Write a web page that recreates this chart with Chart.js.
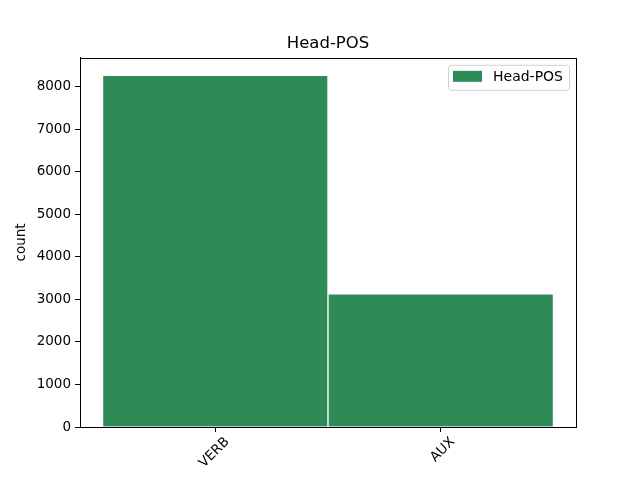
<!DOCTYPE html>
<html>
<head>
<meta charset="utf-8">
<script src="https://cdn.jsdelivr.net/npm/chart.js@4/dist/chart.umd.min.js"></script>
<style>
  html, body { margin: 0; padding: 0; background: #fff; }
  #wrap { width: 640px; height: 480px; }
</style>
</head>
<body>
<div id="wrap"><canvas id="posChart" width="640" height="480"></canvas></div>
<script>
// chart data
const categories = ["VERB", "AUX"];
const counts = [8260, 3130];
const yTicks = [0, 1000, 2000, 3000, 4000, 5000, 6000, 7000, 8000];
const seriesName = "Head-POS";

const barColor = "#2e8b57";
const fontFamily = "'DejaVu Sans', sans-serif";

// frame around the plot area + legend box inside top right
const framePlugin = {
    id: "frame",
    afterDraw(chart) {
        let ctx = chart.ctx;
        let a = chart.chartArea;
        ctx.save();
        ctx.strokeStyle = "#000";
        ctx.lineWidth = 1;
        ctx.strokeRect(Math.round(a.left) + 0.5, Math.round(a.top) + 0.5,
            Math.round(a.right - a.left), Math.round(a.bottom - a.top));

        // legend
        ctx.font = "14px " + fontFamily;
        let textW = ctx.measureText(seriesName).width;
        let boxW = 4 + 29 + 11 + textW + 7;
        let boxH = 25;
        let bx = a.right - 7 - boxW;
        let by = a.top + 7;
        ctx.beginPath();
        ctx.roundRect(bx + 0.5, by + 0.5, boxW, boxH, 3);
        ctx.fillStyle = "rgba(255,255,255,0.8)";
        ctx.fill();
        ctx.strokeStyle = "#d0d0d0";
        ctx.stroke();
        ctx.fillStyle = barColor;
        ctx.fillRect(bx + 5, by + 6, 29, 11);
        ctx.fillStyle = "#000";
        ctx.textBaseline = "middle";
        ctx.textAlign = "left";
        ctx.fillText(seriesName, bx + 45, by + 13);
        ctx.restore();
    }
};

let ctx = document.getElementById("posChart").getContext("2d");
new Chart(ctx, {
    type: "bar",
    data: {
        datasets: [{
            label: seriesName,
            data: categories.map((c, i) => ({ x: i, y: counts[i] })),
            backgroundColor: barColor,
            borderColor: "rgba(255,255,255,0.85)",
            borderWidth: 1,
            barPercentage: 1,
            categoryPercentage: 1
        }]
    },
    options: {
        responsive: false,
        animation: false,
        layout: { padding: { left: 16, right: 0, top: 0, bottom: 0 } },
        plugins: {
            legend: { display: false },
            tooltip: { enabled: false },
            title: {
                display: true,
                text: seriesName,
                color: "#000",
                font: { family: fontFamily, size: 16.5, weight: "normal" },
                padding: { top: 34, bottom: 4 }
            }
        },
        scales: {
            x: {
                type: "linear",
                min: -0.6,
                max: 1.6,
                offset: false,
                afterFit(scale) { scale.height = 53; },
                afterBuildTicks(scale) {
                    scale.ticks = categories.map((c, i) => ({ value: i }));
                },
                ticks: {
                    callback: (v) => categories[v],
                    minRotation: 45,
                    maxRotation: 45,
                    color: "#000",
                    padding: 2,
                    labelOffset: 12,
                    font: { family: fontFamily, size: 13.5 }
                },
                grid: { offset: false, drawOnChartArea: false, drawTicks: true, tickLength: 5, color: "#000" },
                border: { display: true, color: "#000" }
            },
            y: {
                min: 0,
                max: Math.max(...counts) * 1.05,
                afterFit(scale) { scale.width = 64; },
                afterBuildTicks(scale) {
                    scale.ticks = yTicks.map(v => ({ value: v }));
                },
                ticks: {
                    callback: (v) => String(v),
                    color: "#000",
                    padding: 4,
                    font: { family: fontFamily, size: 13.5 }
                },
                title: {
                    display: true,
                    text: "count",
                    color: "#000",
                    font: { family: fontFamily, size: 13.5, lineHeight: 0.8 },
                    padding: { top: 0, bottom: 0 }
                },
                grid: { drawOnChartArea: false, drawTicks: true, tickLength: 5, color: "#000" },
                border: { display: true, color: "#000" }
            },
            // empty right-hand axis keeps the plot area where the reference has it
            yRight: {
                position: "right",
                display: true,
                afterFit(scale) { scale.width = 64; },
                ticks: { display: false },
                grid: { display: false },
                border: { display: false }
            }
        }
    },
    plugins: [framePlugin]
});
</script>
</body>
</html>
